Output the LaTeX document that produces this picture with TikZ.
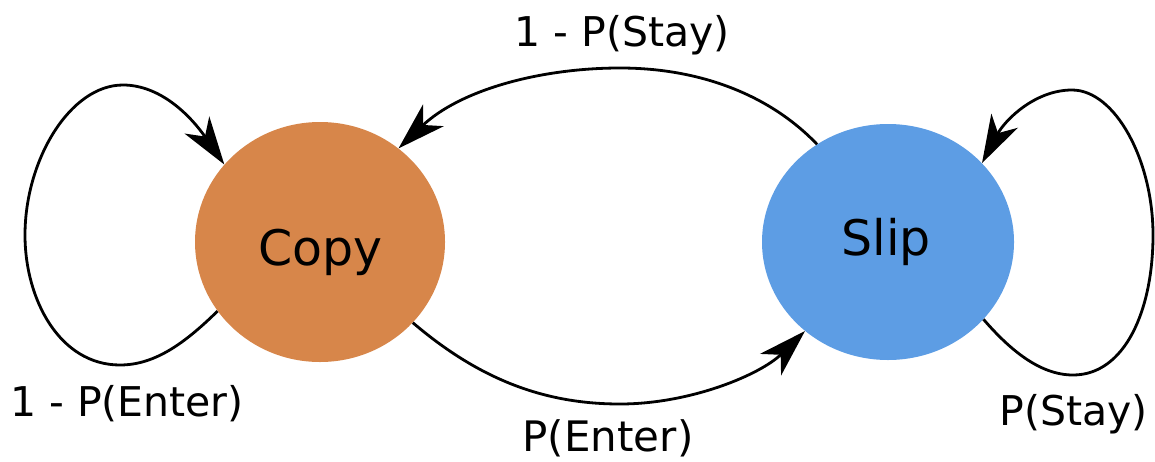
\documentclass[tikz,border=0pt]{standalone}
\usepackage{fontspec}
\setmainfont{DejaVu Sans}
\usetikzlibrary{arrows.meta,shapes.geometric}
\definecolor{copyorange}{RGB}{215,134,74}
\definecolor{slipblue}{RGB}{93,157,228}
\tikzset{
  state/.style={ellipse, inner sep=0pt},
  statetext/.style={inner sep=0pt, anchor=base, font=\fontsize{49}{58}\selectfont},
  lbl/.style={inner sep=0pt, anchor=base, font=\fontsize{41}{48}\selectfont},
  trans/.style={line width=2.8pt, -{Stealth[length=48pt,width=30pt,inset=14pt]}},
}
\begin{document}
\begin{tikzpicture}[x=1pt,y=-1pt]
\useasboundingbox (0,0) rectangle (1155,461);
\node[state, fill=copyorange, minimum width=250pt, minimum height=240pt] (copy) at (320,242) {};
\node[state, fill=slipblue, minimum width=252pt, minimum height=236pt] (slip) at (888,242) {};
\node[statetext] (copyt) at (320.5,265) {Copy};
\node[statetext] (slipt) at (886,255) {Slip};
\node[lbl] (lenter) at (127,416) {1 - P(Enter)};
\node[lbl] (lstay) at (622,46) {1 - P(Stay)};
\node[lbl, font=\fontsize{42}{50}\selectfont] (enter) at (608,451) {P(Enter)};
\node[lbl] (stay) at (1073.5,425) {P(Stay)};
% self loop on Copy
\draw[trans] (copy.214) .. controls (185,343) and (155,365) .. (120,365)
  .. controls (60,365) and (25,300) .. (25,235)
  .. controls (25,160) and (70,85) .. (123,85)
  .. controls (160,85) and (190,115) .. (copy.141);
% Slip -> Copy
\draw[trans] (slip.126) .. controls (770,95) and (700,68) .. (620,68)
  .. controls (540,68) and (460,90) .. (copy.50);
% Copy -> Slip
\draw[trans] (copy.-41) .. controls (480,380) and (545,404) .. (620,404)
  .. controls (690,404) and (760,375) .. (slip.227);
% self loop on Slip
\draw[trans] (slip.-39) .. controls (1010,350) and (1040,375) .. (1073,375)
  .. controls (1125,375) and (1153,310) .. (1153,235)
  .. controls (1153,160) and (1115,90) .. (1072,90)
  .. controls (1035,90) and (1005,120) .. (slip.40);
\end{tikzpicture}
\end{document}
